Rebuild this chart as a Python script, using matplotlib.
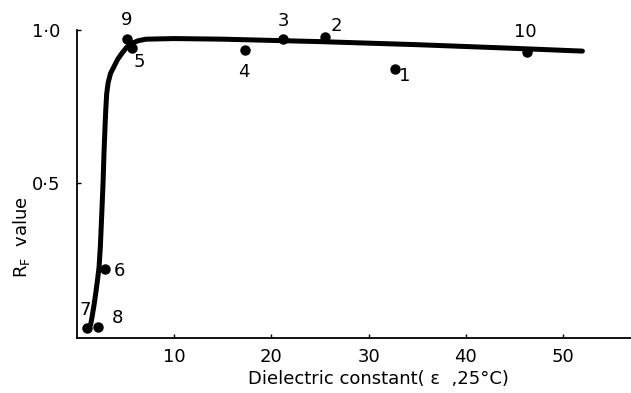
import matplotlib
matplotlib.use("Agg")
import matplotlib.pyplot as plt

# data points (solvent number, dielectric constant, RF value)
labels = ["1", "2", "3", "4", "5", "6", "7", "8", "9", "10"]
eps = [32.7, 25.5, 21.2, 17.3, 5.7, 2.9, 1.0, 2.2, 5.15, 46.3]
rf = [0.873, 0.977, 0.970, 0.935, 0.940, 0.220, 0.026, 0.030, 0.970, 0.928]

# hand-drawn trend curve
curve_x = [1.4, 1.55, 1.75, 1.93, 2.12, 2.27, 2.4, 2.55, 2.68, 2.78, 2.88, 2.96, 3.05, 3.2, 3.45, 3.8, 4.2, 4.65, 5.1, 5.7, 6.3, 7.1, 10.0, 15.0, 20.0, 25.0, 30.0, 35.0, 40.0, 45.0, 52.0]
curve_y = [0.036, 0.062, 0.10, 0.14, 0.185, 0.225, 0.29, 0.40, 0.50, 0.60, 0.68, 0.739, 0.79, 0.827, 0.858, 0.88, 0.905, 0.925, 0.943, 0.957, 0.965, 0.970, 0.972, 0.970, 0.966, 0.962, 0.957, 0.952, 0.946, 0.940, 0.931]

# label offsets in pixels (dx, dy) relative to each point
offsets = {"1": (10, -7), "2": (12, 11), "3": (0, 18), "4": (-1, -22), "5": (7, -14),
           "6": (14, -2), "7": (-1, 18), "8": (19, 9), "9": (0, 19), "10": (-2, 20)}

plt.rcParams['font.family'] = ['DejaVu Sans']
fig = plt.figure(figsize=(6.31, 3.93), dpi=100)
ax = fig.add_axes([77/631, 1 - 338/393, 1 - 77/631, (338 - 30)/393])

ax.plot(curve_x, curve_y, color="black", lw=3.6, solid_capstyle="round", solid_joinstyle="round")
ax.plot(eps, rf, "o", color="black", ms=6.5)

for lab, x, y in zip(labels, eps, rf):
    dx, dy = offsets[lab]
    ax.annotate(lab, (x, y), xytext=(dx * 0.72, dy * 0.72), textcoords="offset points",
                ha="center", va="center", fontsize=13)

ax.set_xlim(0, 57)
ax.set_ylim(-0.007, 1.0)
ax.spines["top"].set_visible(False)
ax.spines["right"].set_visible(False)
for s in ("left", "bottom"):
    ax.spines[s].set_linewidth(1.3)

ax.set_xticks([10, 20, 30, 40, 50])
ax.set_xticklabels(["10", "20", "30", "40", "50"])
ax.set_yticks([0.5, 1.0])
ax.set_yticklabels(["0·5", "1·0"])
ax.tick_params(direction="in", length=3, width=1, labelsize=13, pad=7)
ax.tick_params(axis="y", pad=12)

fig.text(378/631, 1 - 384/393, "Dielectric constant( ε  ,25°C)", ha="center", va="baseline", fontsize=13)
fig.text(22/631, 1 - 237/393, r"R$_\mathregular{F}$  value", ha="center", va="center", rotation=90, fontsize=13)

fig.savefig("out.png", dpi=100)
